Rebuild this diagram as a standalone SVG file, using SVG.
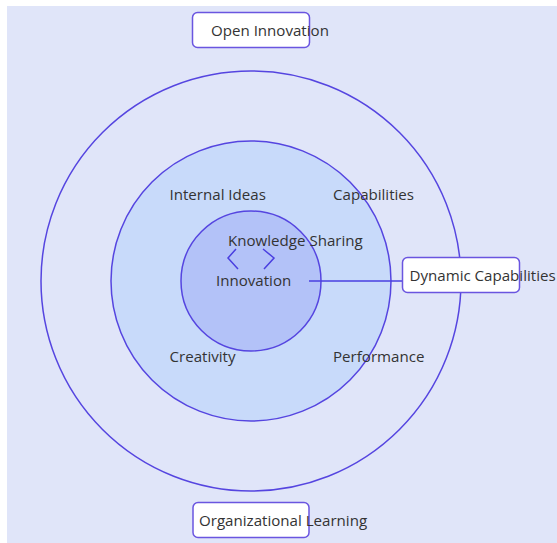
<svg xmlns="http://www.w3.org/2000/svg" width="557" height="543" viewBox="0 0 557 543">
<style>
.ring{stroke:#5545e0;stroke-width:1.5}
.box{fill:#ffffff;stroke:#6a55e0;stroke-width:1.5}
.t{font-family:"Open Sans","Noto Sans",sans-serif;font-size:15.1px;fill:#333333}
.conn{stroke:#4a3fe0;stroke-width:1.5;fill:none}
</style>
<rect x="0" y="0" width="557" height="543" fill="#ffffff"/>
<rect x="7" y="6" width="550" height="537" fill="#e0e5f9"/>
<g id="outer-ring"><circle class="ring" cx="251" cy="281" r="210" fill="#e0e5f9"/></g>
<g id="middle-ring"><circle class="ring" cx="251" cy="281" r="140" fill="#c8dafa"/></g>
<g id="inner-ring"><circle class="ring" cx="251" cy="281" r="70" fill="#b3c2f8"/></g>
<g id="connectors">
<line class="conn" x1="309" y1="281" x2="402.5" y2="281"/>
<polyline class="conn" points="236,249 228,258 238,269"/>
<polyline class="conn" points="263,249 274,258 264,269"/>
</g>
<g id="internal-ideas"><text class="t" x="169.5" y="199.5">Internal Ideas</text></g>
<g id="capabilities"><text class="t" x="333" y="199.5">Capabilities</text></g>
<g id="knowledge-sharing"><text class="t" x="228" y="245.5">Knowledge Sharing</text></g>
<g id="innovation"><text class="t" x="216" y="286">Innovation</text></g>
<g id="creativity"><text class="t" x="169.5" y="362">Creativity</text></g>
<g id="performance"><text class="t" x="333" y="362">Performance</text></g>
<g id="open-innovation"><rect class="box" x="192.5" y="12.5" width="117" height="35" rx="5"/><text class="t" x="211" y="35.5">Open Innovation</text></g>
<g id="dynamic-capabilities"><rect class="box" x="402.5" y="257.5" width="117" height="35" rx="5"/><text class="t" x="409.5" y="280.5">Dynamic Capabilities</text></g>
<g id="organizational-learning"><rect class="box" x="193" y="502.5" width="116" height="35" rx="5"/><text class="t" x="199" y="525.5">Organizational Learning</text></g>
</svg>
